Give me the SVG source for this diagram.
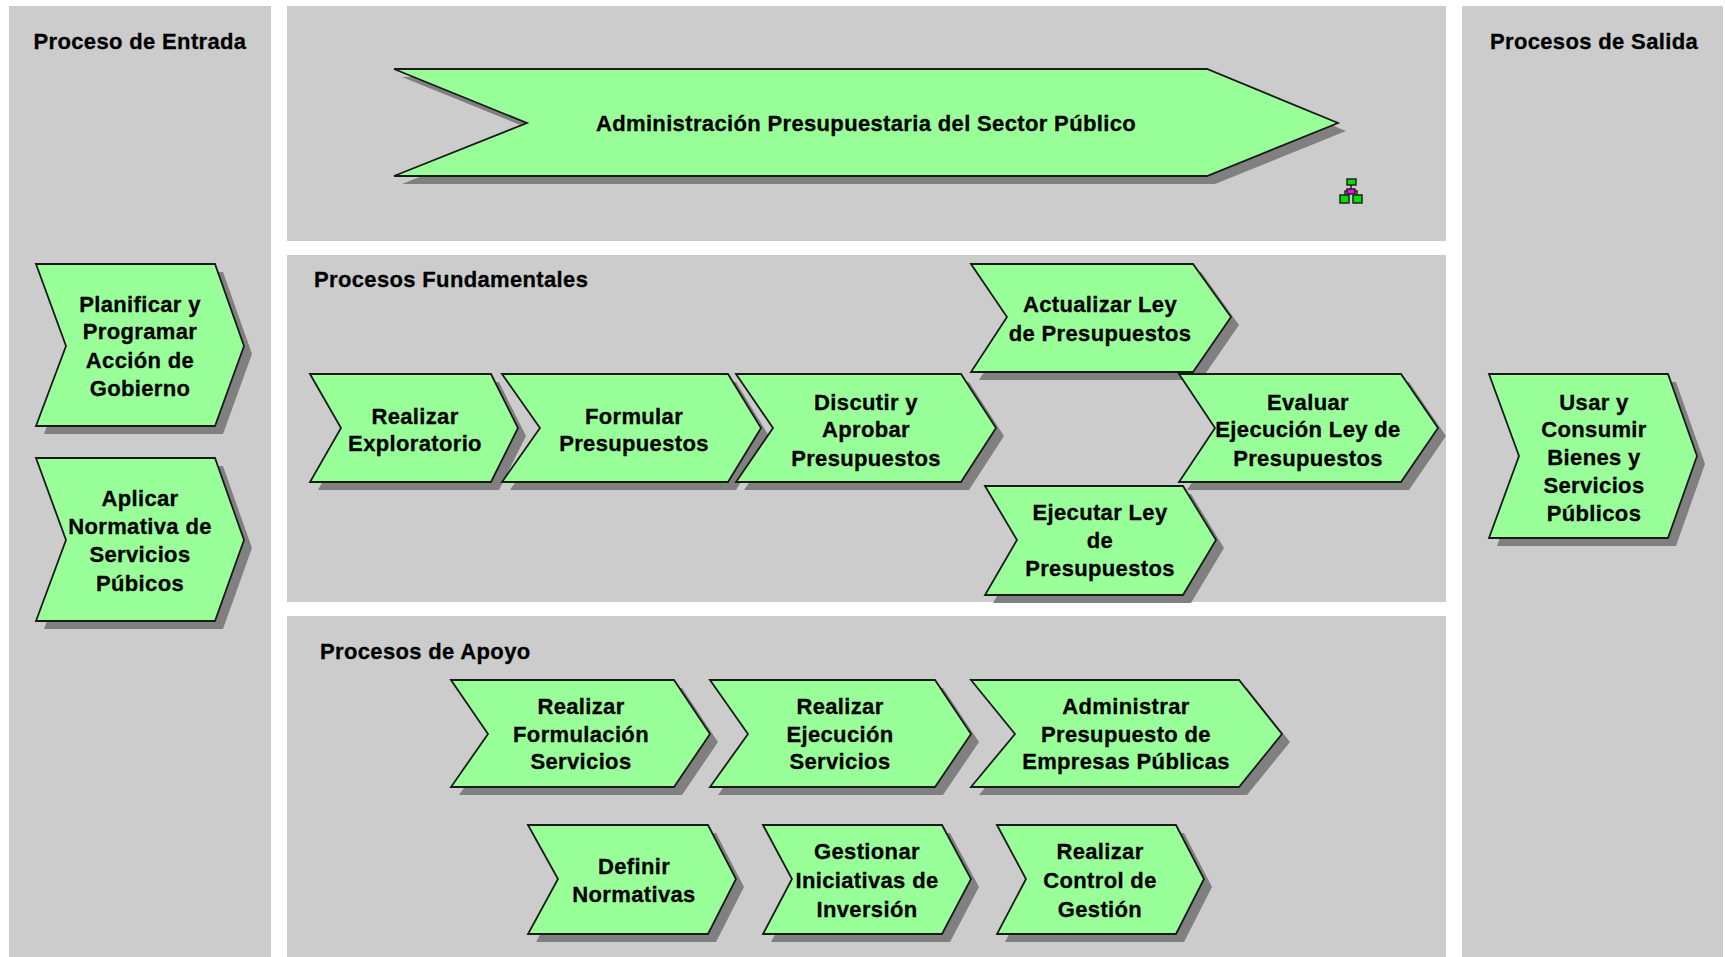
<svg xmlns="http://www.w3.org/2000/svg" width="1725" height="957" viewBox="0 0 1725 957">
<style>
.p{fill:#cccccc}
.s{fill:#808080}
.c{fill:#99ff99;stroke:#1a1a1a;stroke-width:1.8;stroke-linejoin:miter}
text{font-family:"Liberation Sans",Arial,sans-serif;font-weight:700;font-size:22px;letter-spacing:.35px;fill:#000;stroke:#000;stroke-width:.3;text-anchor:middle}
.l{text-anchor:start}
.ig{fill:#00e000;stroke:#222;stroke-width:1.5}
.im{fill:#ff00ff;stroke:#222;stroke-width:1.5}
.il{fill:none;stroke:#222;stroke-width:1.5}
</style>
<rect width="1725" height="957" fill="#fff"/>
<g id="panels">
<rect class="p" x="9" y="6" width="262" height="951"/>
<rect class="p" x="287" y="6" width="1159" height="235"/>
<rect class="p" x="287" y="255" width="1159" height="347"/>
<rect class="p" x="287" y="616" width="1159" height="341"/>
<rect class="p" x="1462" y="6" width="261" height="951"/>
</g>
<g id="titles">
<text x="140" y="49">Proceso de Entrada</text>
<text x="1594" y="49">Procesos de Salida</text>
<text class="l" x="314" y="287">Procesos Fundamentales</text>
<text class="l" x="320" y="659">Procesos de Apoyo</text>
</g>
<g id="n-admin">
<polygon class="s" points="402,77 535,131 402,184 1215,184 1346,131 1215,77"/>
<polygon class="c" points="394,69 527,123 394,176 1207,176 1338,123 1207,69"/>
<text x="866" y="131">Administración Presupuestaria del Sector Público</text>
</g>
<g id="n-icon">
<path class="il" d="M1351 185V189M1345 195V191H1357V195"/>
<rect class="ig" x="1347" y="179" width="9" height="6"/>
<rect class="im" x="1347" y="189" width="8" height="5"/>
<rect class="ig" x="1340" y="195" width="9" height="8"/>
<rect class="ig" x="1353" y="195" width="9" height="8"/>
</g>
<g id="n-planificar">
<polygon class="s" points="44,272 74,354 44,434 223,434 252,354 223,272"/>
<polygon class="c" points="36,264 66,346 36,426 215,426 244,346 215,264"/>
<text x="140" y="312">Planificar y</text><text x="140" y="339">Programar</text><text x="140" y="368">Acción de</text><text x="140" y="396">Gobierno</text>
</g>
<g id="n-aplicar">
<polygon class="s" points="44,466 74,548 44,629 223,629 252,548 223,466"/>
<polygon class="c" points="36,458 66,540 36,621 215,621 244,540 215,458"/>
<text x="140" y="506">Aplicar</text><text x="140" y="534">Normativa de</text><text x="140" y="562">Servicios</text><text x="140" y="591">Púbicos</text>
</g>
<g id="n-exploratorio">
<polygon class="s" points="318,382 349,436 318,490 499,490 526,436 499,382"/>
<polygon class="c" points="310,374 341,428 310,482 491,482 518,428 491,374"/>
<text x="415" y="424">Realizar</text><text x="415" y="451">Exploratorio</text>
</g>
<g id="n-formular">
<polygon class="s" points="510,382 548,436 510,490 736,490 769,436 736,382"/>
<polygon class="c" points="502,374 540,428 502,482 728,482 761,428 728,374"/>
<text x="634" y="424">Formular</text><text x="634" y="451">Presupuestos</text>
</g>
<g id="n-discutir">
<polygon class="s" points="744,382 781,436 744,490 969,490 1004,436 969,382"/>
<polygon class="c" points="736,374 773,428 736,482 961,482 996,428 961,374"/>
<text x="866" y="410">Discutir y</text><text x="866" y="437">Aprobar</text><text x="866" y="466">Presupuestos</text>
</g>
<g id="n-actualizar">
<polygon class="s" points="979,272 1015,325 979,380 1201,380 1239,325 1201,272"/>
<polygon class="c" points="971,264 1007,317 971,372 1193,372 1231,317 1193,264"/>
<text x="1100" y="312">Actualizar Ley</text><text x="1100" y="341">de Presupuestos</text>
</g>
<g id="n-evaluar">
<polygon class="s" points="1187,382 1223,436 1187,490 1409,490 1446,436 1409,382"/>
<polygon class="c" points="1179,374 1215,428 1179,482 1401,482 1438,428 1401,374"/>
<text x="1308" y="410">Evaluar</text><text x="1308" y="437">Ejecución Ley de</text><text x="1308" y="466">Presupuestos</text>
</g>
<g id="n-ejecutar">
<polygon class="s" points="993,494 1025,548 993,603 1191,603 1224,548 1191,494"/>
<polygon class="c" points="985,486 1017,540 985,595 1183,595 1216,540 1183,486"/>
<text x="1100" y="520">Ejecutar Ley</text><text x="1100" y="548">de</text><text x="1100" y="576">Presupuestos</text>
</g>
<g id="n-usar">
<polygon class="s" points="1497,382 1527,464 1497,546 1676,546 1705,464 1676,382"/>
<polygon class="c" points="1489,374 1519,456 1489,538 1668,538 1697,456 1668,374"/>
<text x="1594" y="410">Usar y</text><text x="1594" y="437">Consumir</text><text x="1594" y="465">Bienes y</text><text x="1594" y="493">Servicios</text><text x="1594" y="521">Públicos</text>
</g>
<g id="n-formulacion">
<polygon class="s" points="459,688 496,742 459,795 682,795 718,742 682,688"/>
<polygon class="c" points="451,680 488,734 451,787 674,787 710,734 674,680"/>
<text x="581" y="714">Realizar</text><text x="581" y="742">Formulación</text><text x="581" y="769">Servicios</text>
</g>
<g id="n-ejecucion">
<polygon class="s" points="718,688 756,742 718,795 943,795 979,742 943,688"/>
<polygon class="c" points="710,680 748,734 710,787 935,787 971,734 935,680"/>
<text x="840" y="714">Realizar</text><text x="840" y="742">Ejecución</text><text x="840" y="769">Servicios</text>
</g>
<g id="n-empresas">
<polygon class="s" points="979,688 1023,742 979,795 1247,795 1290,742 1247,688"/>
<polygon class="c" points="971,680 1015,734 971,787 1239,787 1282,734 1239,680"/>
<text x="1126" y="714">Administrar</text><text x="1126" y="742">Presupuesto de</text><text x="1126" y="769">Empresas Públicas</text>
</g>
<g id="n-normativas">
<polygon class="s" points="536,833 566,887 536,942 716,942 744,887 716,833"/>
<polygon class="c" points="528,825 558,879 528,934 708,934 736,879 708,825"/>
<text x="634" y="874">Definir</text><text x="634" y="902">Normativas</text>
</g>
<g id="n-inversion">
<polygon class="s" points="771,833 800,887 771,942 950,942 979,887 950,833"/>
<polygon class="c" points="763,825 792,879 763,934 942,934 971,879 942,825"/>
<text x="867" y="859">Gestionar</text><text x="867" y="888">Iniciativas de</text><text x="867" y="917">Inversión</text>
</g>
<g id="n-control">
<polygon class="s" points="1005,833 1034,887 1005,942 1184,942 1212,887 1184,833"/>
<polygon class="c" points="997,825 1026,879 997,934 1176,934 1204,879 1176,825"/>
<text x="1100" y="859">Realizar</text><text x="1100" y="888">Control de</text><text x="1100" y="917">Gestión</text>
</g>
</svg>
